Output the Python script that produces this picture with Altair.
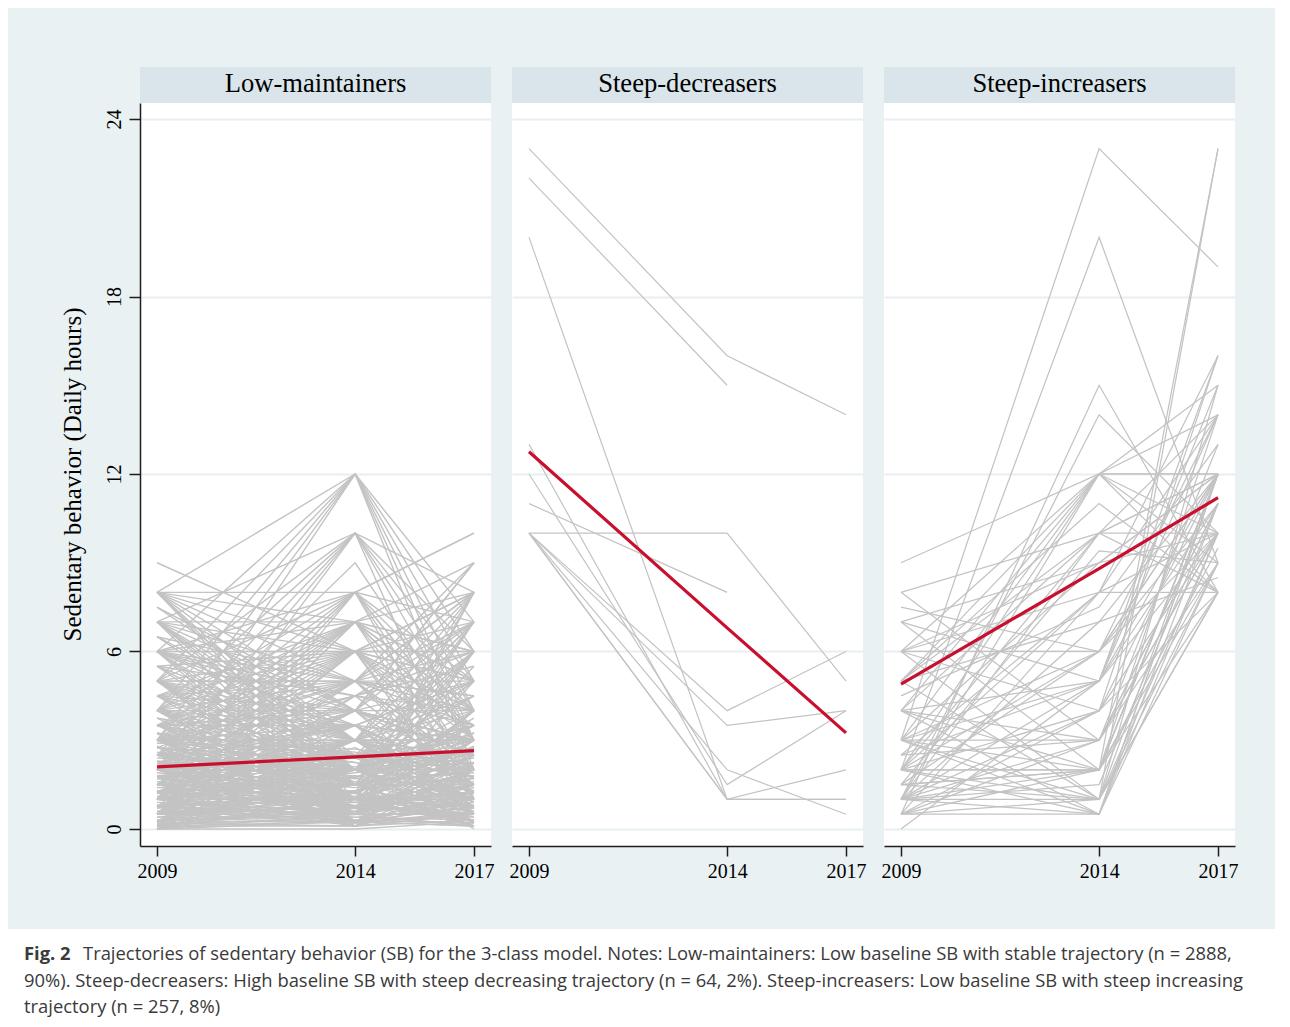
import altair as alt
import pandas as pd

YEARS = [2009, 2014, 2017]
CLASS_NAMES = ["Low-maintainers", "Steep-decreasers", "Steep-increasers"]

# individual trajectories: (2009, 2014, 2017) daily hours, None = missing
LOW_MAINTAINERS = [
    (9, 6, 4), (8, 12, 3), (8, 7, 5), (8, 5, 8), (8, 3, 6), (8, 8, 2), (8, 2, 1), (8, 1, 4), (8, 1.5, 0.25),
    (7.5, 4, 7), (7, 7, 1), (7, 10, 4), (7, 2, 8), (7, 5, 5), (7, 3, 2), (7, 1.5, 3.5), (7, 0.5, 2.5), (7, 2.5, 0.5),
    (6.5, 3, 7), (6.5, 5, 1.5), (6, 12, 5), (6, 6, 2), (6, 2, 6), (6, 8, 10), (6, 4, 3), (6, 3.5, 3), (6, 1, 0.75),
    (6, 0.25, 1), (6, 1.5, 0.1), (5.5, 6, 0.5), (5.5, 4.5, 4), (5.5, 1, 1.5), (5, 12, 2), (5, 10, 6), (5, 5, 7),
    (5, 3, 4), (5, 1, 8), (5, 8, 3), (5, 2.5, 1), (5, 4, 2.5), (5, 0.5, 0.5), (5, 0.1, 3), (5, 1.5, 2.25),
    (4.5, 6, 5), (4.5, 3, 2), (4.5, 1.5, 3.5), (4.5, 5, 2), (4, 12, 6), (4, 10, 3), (4, 8, 7), (4, 4, 9), (4, 2, 5),
    (4, 6, 1), (4, 3, 1.5), (4, 1, 3), (4, 0.5, 0.5), (4, 3.5, 0.5), (4, 2, 4.5), (4, 0.25, 1.25), (4, 7, 4),
    (3.75, 0.75, 2), (3.5, 7, 4), (3.5, 2.5, 2), (3.5, 1, 0.25), (3.5, 3.5, 1.75), (3.5, 4, 0.5), (3.5, 5, 3.5),
    (3.25, 2.25, 1), (3.25, 1.5, 3.75), (3.2, 2.6, 1.4), (3, 12, 4), (3, 10, 1), (3, 8, 5), (3, 6, 8), (3, 1, 7),
    (3, 5, 2), (3, 2, 1), (3, 0.5, 4), (3, 3, 3), (3, 4, 2.5), (3, 0.25, 1), (3, 1.5, 6), (3, 2, 0.25), (3, 7, 8),
    (2.9, 2.7, 2.2), (2.8, 1.2, 2.8), (2.75, 1.75, 3.25), (2.75, 5, 4.5), (2.6, 1.6, 1.9), (2.5, 9, 3), (2.5, 1, 3),
    (2.5, 3.5, 3), (2.5, 2, 0.75), (2.5, 0.25, 2.5), (2.5, 4.5, 1.5), (2.5, 6, 3), (2.4, 2.1, 2.6), (2.25, 0.5, 1.5),
    (2.25, 1.25, 0.1), (2.25, 3.5, 5), (2.2, 0.9, 1.6), (2.1, 1.8, 1.3), (2, 12, 7), (2, 10, 8), (2, 8, 1), (2, 6, 6),
    (2, 4, 9), (2, 3, 0.5), (2, 1, 1), (2, 0.25, 2), (2, 4, 1.25), (2, 2.5, 3), (2, 0.1, 2), (2, 0.5, 8), (2, 1.5, 0.1),
    (2, 8, 10), (2, 7, 3), (1.9, 1.4, 1.7), (1.8, 2.4, 0.9), (1.75, 2, 4), (1.75, 0.75, 1.25), (1.75, 2.5, 6),
    (1.6, 0.8, 1.1), (1.5, 7, 2), (1.5, 0.5, 2), (1.5, 3, 2.5), (1.5, 1.25, 3.5), (1.5, 2, 0.25), (1.5, 4, 3),
    (1.5, 5, 1), (1.5, 1.5, 7), (1.4, 1.1, 0.6), (1.25, 1.5, 0.75), (1.25, 3.5, 0.5), (1.25, 0.5, 1.75), (1.25, 4, 5),
    (1.2, 1.9, 2.4), (1.1, 0.9, 1.2), (1, 10, 5), (1, 8, 4), (1, 6, 7), (1, 3, 8), (1, 2, 3.5), (1, 0.25, 0.5),
    (1, 4, 2), (1, 1, 0.25), (1, 3, 1), (1, 0.1, 1.5), (1, 0.5, 5), (1, 2.5, 0), (1, 5, 9), (0.9, 0.6, 0.8),
    (0.8, 0.4, 0.3), (0.75, 2, 1.5), (0.75, 0.5, 2.25), (0.75, 3, 3), (0.75, 6, 4), (0.75, 1.25, 5.5), (0.7, 1.3, 1.8),
    (0.6, 0.7, 0.4), (0.5, 7, 9), (0.5, 5, 8), (0.5, 7, 6), (0.5, 1.5, 1), (0.5, 0.5, 3), (0.5, 2.5, 0.5),
    (0.5, 3, 1.75), (0.5, 1, 4), (0.5, 0.25, 0.75), (0.5, 4, 2.5), (0.5, 1, 6), (0.4, 0.2, 0.5), (0.3, 0.5, 0.1),
    (0.3, 0.6, 0.9), (0.25, 1, 2.5), (0.25, 2, 0.5), (0.25, 0.75, 1), (0.25, 1.75, 2.75), (0.25, 3, 4.5),
    (0.25, 4.5, 6), (0.2, 0.1, 0.3), (0.2, 0.3, 0.2), (0.1, 0.25, 0.1), (0.1, 1, 0.5), (0.1, 2, 7), (0, 8, 3),
    (0, 0.5, 1.5), (0, 1.5, 2), (0, 0, 0.25), (0, 3, 5), (6, 7, 6),
    (3.5, 0.5, 2.75), (3.5, 2, 3), (3.5, 1.5, 1), (3, 2.5, 1.75), (3, 1, 2.25), (3, 3.5, 0.75), (2.75, 0.75, 0.5),
    (2.75, 2.25, 1.25), (2.5, 1.5, 2), (2.5, 0.5, 1), (2.5, 3, 0.25), (2.5, 2.5, 2.5), (2.25, 2, 3.5),
    (2.25, 0.25, 0.75), (2, 2, 2), (2, 1.25, 2.75), (2, 3.5, 1.5), (2, 0.75, 3.25), (1.75, 1.5, 1.5),
    (1.75, 3, 0.75), (1.75, 0.25, 2.5), (1.5, 1, 1.25), (1.5, 2.5, 1.75), (1.5, 0.1, 0.5), (1.25, 2, 2.25),
    (1.25, 1, 3), (1.25, 2.75, 1), (1, 1.5, 2.75), (1, 1.75, 0.5), (1, 0.75, 2), (0.75, 1, 0.1), (0.75, 2.5, 2),
    (0.75, 0.25, 1.25), (0.5, 2, 3.25), (0.5, 0.75, 1.5), (0.5, 1.25, 0.25), (0.25, 0.5, 2), (0.25, 1.5, 1.5),
    (0.25, 2.5, 3.5), (0.1, 0.75, 1.75), (0.1, 0.1, 1), (0, 1, 0.75), (0, 2, 2.5), (0, 0.25, 0.1), (4, 2.5, 3.5),
    (4, 1.5, 2), (4, 4, 4), (4.5, 2, 1), (4.5, 4, 3), (4.5, 0.5, 2.5), (5, 2, 3.5), (5, 3.5, 1.5), (5, 5, 4),
    (5.5, 3, 3), (5.5, 2, 0.25), (6, 5, 4.5), (6, 3, 1.5), (6, 4.5, 7), (6.5, 2, 3), (7, 4, 3), (7, 6, 2.5),
    (7.5, 3, 1), (8, 4, 2.5), (8, 6, 3.5), (4, 5, 6), (3, 4.5, 5.5), (2, 5, 4), (1, 4.5, 3.5), (0.5, 3.5, 5),
    (1.5, 6, 5), (2.5, 7, 5), (3.5, 6, 6), (4.5, 7, 3), (5, 6, 8), (2, 3, 6), (1, 2, 5), (3, 3, 7), (0.75, 4, 8),
    (1.25, 0.75, 4), (2.75, 0.5, 6), (3.75, 2.5, 4.5), (0.3, 0.2, 0.6), (0.6, 0.3, 0.2), (0.4, 0.9, 0.3),
    (0.15, 0.4, 0.7), (0.8, 1.1, 0.4), (1.1, 0.3, 0.9), (1.3, 0.7, 1.4), (1.7, 1.2, 0.8), (2.3, 1.7, 2.1),
]

STEEP_DECREASERS = [
    (23, 16, 14), (22, 15, None), (20, 1, 1), (13, 1, 2), (12, 1.5, 4), (11, 8, None),
    (10, 10, 5), (10, 4, 6), (10, 3.5, 4), (10, 2, 0.5), (10, 1, 1), (10, 1, None),
]

STEEP_INCREASERS = [
    (3, 23, 19), (2, 20, 9), (1, 1, 23), (2, 2, 23), (0.5, 15, 8), (1, 14, 10), (9, 12, 12), (8, 10, 8),
    (7.5, 6, 12), (7, 9, 10), (6, 12, 14), (6, 6, 11), (6, 8, 16), (5, 12, 9), (5, 7, 12), (5, 11, 8),
    (4, 12, 15), (4, 10, 10), (4, 5, 14), (4, 2, 12), (3, 12, 8), (3, 9, 12), (3, 3, 13), (3, 6, 10),
    (2.5, 5, 15), (2, 10, 12), (2, 12, 10), (2, 4, 16), (2, 0.5, 11), (2, 8, 8), (1.5, 6, 12), (1.5, 9.4, 9),
    (1, 10, 14), (1, 3, 11), (1, 2, 12), (1, 0.5, 10), (1, 7, 8.5), (1, 5, 12), (0.5, 8, 14), (0.5, 4, 10),
    (0.5, 1, 15), (0, 5, 16), (6, 1, 9), (3, 0.5, 12), (2, 1, 10), (1.5, 2, 9.5), (8, 3, 11), (7, 2, 12),
    (5, 1, 8), (4, 0.5, 9), (3, 1, 12), (2.5, 3, 10), (1, 4, 12), (0.5, 2, 8), (6, 9, 12), (4.5, 7.5, 13),
    (1, 1.5, 11), (2, 2, 12), (0.5, 0.5, 12), (1.5, 1, 8), (3, 2, 9), (4, 3, 10), (2, 6, 14), (5, 10, 12),
    (3, 5, 11), (6, 4, 8), (1, 12, 12), (2.5, 8, 10), (0.5, 3, 9), (7, 5, 10), (1.5, 2, 14),
]

MEAN_LOW = [2.1, 2.44, 2.65]
MEAN_DEC = [12.75, 6.8, 3.25]
MEAN_INC = [4.9, 8.8, 11.2]

Y_TICKS = [0, 6, 12, 18, 24]
Y_TITLE = "Sedentary behavior (Daily hours)"
CAPTION_BOLD = "Fig. 2"
CAPTION_LINE1 = ("Trajectories of sedentary behavior (SB) for the 3-class model. Notes: Low-maintainers: "
                 "Low baseline SB with stable trajectory (n = 2888,")
CAPTION_LINE2 = ("90%). Steep-decreasers: High baseline SB with steep decreasing trajectory (n = 64, 2%). "
                 "Steep-increasers: Low baseline SB with steep increasing")
CAPTION_LINE3 = "trajectory (n = 257, 8%)"

# styling
SERIF = "Liberation Serif"
SANS = "Open Sans"
LIGHT = "#e9f1f3"
HEADER = "#d9e5ea"
GRID = "#e7eff2"
GREY = "#c3c3c3"
RED = "#c8102e"
AXIS_COLOR = "#1e1e1e"
PW, PH, HH = 351, 743, 36


def to_long(rows):
    recs = []
    for i, r in enumerate(rows):
        for yr, v in zip(YEARS, r):
            if v is not None:
                recs.append({"id": i, "year": yr, "value": v})
    return pd.DataFrame(recs)


XS = alt.Scale(domain=[2008.571, 2017.429], nice=False, zero=False)
YS = alt.Scale(domain=[-0.575, 24.541], nice=False, zero=False)

X_AXIS = alt.Axis(values=YEARS, format="d", title=None, grid=False, domainColor=AXIS_COLOR,
                  domainWidth=1.5, tickColor=AXIS_COLOR, tickWidth=1.5, tickSize=10,
                  labelFont=SERIF, labelFontSize=20, labelColor="black", labelPadding=5,
                  labelFlush=False, labelOverlap=False)
Y_AXIS_FIRST = alt.Axis(values=Y_TICKS, title=None, grid=True, gridColor=GRID, gridWidth=2,
                        domainColor=AXIS_COLOR, domainWidth=1.5, tickColor=AXIS_COLOR, tickWidth=1.5,
                        tickSize=11, labelAngle=270, labelAlign="center", labelBaseline="alphabetic",
                        labelPadding=9, labelFont=SERIF, labelFontSize=20, labelColor="black",
                        labelOverlap=False)
Y_AXIS_OTHER = alt.Axis(values=Y_TICKS, title=None, grid=True, gridColor=GRID, gridWidth=2,
                        labels=False, ticks=False, domain=False)


def plot_panel(rows, mean, first, width):
    ind = to_long(rows)
    mdf = pd.DataFrame({"year": YEARS, "value": mean})
    x = alt.X("year:Q", scale=XS, axis=X_AXIS)
    y = alt.Y("value:Q", scale=YS, axis=Y_AXIS_FIRST if first else Y_AXIS_OTHER)
    grey = alt.Chart(ind).mark_line(color=GREY, strokeWidth=width).encode(x=x, y=y, detail="id:N")
    red = alt.Chart(mdf).mark_line(color=RED, strokeWidth=3.2).encode(x=x, y=y)
    return alt.layer(grey, red).properties(width=PW, height=PH, view=alt.ViewBackground(fill="white"))


def header(name):
    return alt.Chart(pd.DataFrame({"label": [name]})).mark_text(
        font=SERIF, fontSize=26.6, color="black", align="center", baseline="middle"
    ).encode(text="label:N", x=alt.value(PW / 2), y=alt.value(17)).properties(
        width=PW, height=HH, view=alt.ViewBackground(fill=HEADER))


blank = alt.Chart(pd.DataFrame({"t": [""]})).mark_text().encode(text="t:N").properties(
    width=111, height=HH, view=alt.ViewBackground(fill=LIGHT))

ytitle = alt.Chart(pd.DataFrame({"t": [Y_TITLE]})).mark_text(
    font=SERIF, fontSize=25, angle=270, align="center", baseline="middle", color="black"
).encode(text="t:N", x=alt.value(65), y=alt.value(PH / 2)).properties(
    width=111, height=PH, view=alt.ViewBackground(fill=LIGHT))

grid = alt.concat(
    blank, header(CLASS_NAMES[0]), header(CLASS_NAMES[1]), header(CLASS_NAMES[2]),
    ytitle, plot_panel(LOW_MAINTAINERS, MEAN_LOW, True, 1.4),
    plot_panel(STEEP_DECREASERS, MEAN_DEC, False, 1.2), plot_panel(STEEP_INCREASERS, MEAN_INC, False, 1.25),
    columns=4, spacing={"row": 0, "column": 21}, bounds="flush",
)

cap_font = dict(font=SANS, fontSize=18.4, color="#3a3a3a", align="left", baseline="middle")
cap_bold = alt.Chart(pd.DataFrame({"t": [CAPTION_BOLD]})).mark_text(fontWeight="bold", **cap_font).encode(
    text="t:N", x=alt.value(16), y=alt.value(25))
cap_l1 = alt.Chart(pd.DataFrame({"t": [CAPTION_LINE1]})).mark_text(dx=59, **cap_font).encode(
    text="t:N", x=alt.value(16), y=alt.value(25))
cap_l2 = alt.Chart(pd.DataFrame({"t": [CAPTION_LINE2]})).mark_text(**cap_font).encode(
    text="t:N", x=alt.value(16), y=alt.value(52))
cap_l3 = alt.Chart(pd.DataFrame({"t": [CAPTION_LINE3]})).mark_text(**cap_font).encode(
    text="t:N", x=alt.value(16), y=alt.value(78))
caption = alt.layer(cap_bold, cap_l1, cap_l2, cap_l3).properties(
    width=1267, height=90, view=alt.ViewBackground(fill="white"))

chart = alt.vconcat(grid, caption, spacing=48).properties(
    padding={"left": 0, "top": 59, "right": 0, "bottom": 0}, background=LIGHT
).configure_view(strokeWidth=0)

chart.save("out.html", embed_options={"renderer": "svg", "actions": False})
